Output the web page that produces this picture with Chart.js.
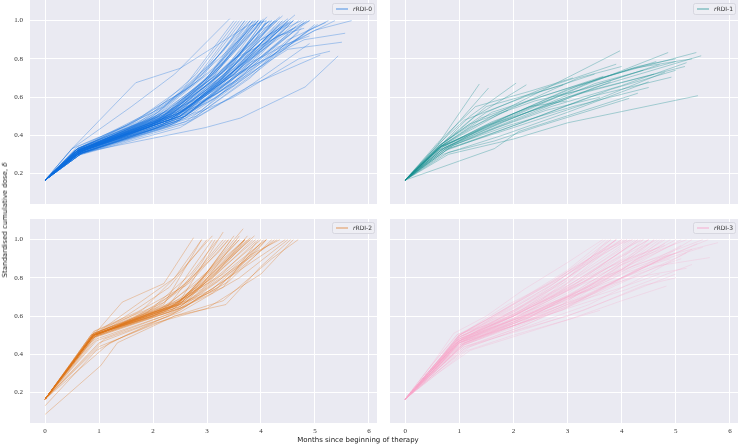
<!DOCTYPE html>
<html>
<head>
<meta charset="utf-8">
<script src="https://cdn.jsdelivr.net/npm/chart.js@4.4.0/dist/chart.umd.min.js"></script>
<style>
body { margin: 0; background: #fff; width: 738px; height: 445px; position: relative; overflow: hidden; }
canvas { position: absolute; }
.title { position: absolute; font-family: "DejaVu Sans", sans-serif; font-size: 7px; color: #1a1a1a; white-space: nowrap; z-index: 2; }
#ytitle { left: 5px; top: 220px; transform: translate(-50%, -50%) rotate(-90deg); }
#xtitle { left: 358px; top: 440px; transform: translate(-50%, -50%); }
</style>
</head>
<body>
<canvas id="c0" width="377" height="204" style="left:0;top:0"></canvas>
<canvas id="c1" width="348" height="204" style="left:390px;top:0"></canvas>
<canvas id="c2" width="377" height="226" style="left:0;top:219px"></canvas>
<canvas id="c3" width="348" height="226" style="left:390px;top:219px"></canvas>
<div class="title" id="ytitle">Standardised cumulative dose, <i>δ</i></div>
<div class="title" id="xtitle">Months since beginning of therapy</div>
<script>
// shared ticks
var xTicks = [0, 1, 2, 3, 4, 5, 6]
var yTicks = [0.2, 0.4, 0.6, 0.8, 1.0]
var groupNames = ['RDI-0', 'RDI-1', 'RDI-2', 'RDI-3']

// each patient: [months, standardised cumulative dose]
var rrdi0 = [
  [[0,.165],[.5,.33],[1.68,.675],[2.5,.75],[3.9,1.0]],
  [[0,.165],[.5,.33],[1.6,.55],[2.4,.72],[3.42,1.01]],
  [[0,.165],[.7,.31],[2.97,.44],[3.62,.49],[4.82,.653],[5.43,.815]],
  [[0,.165],[.6,.3],[2.2,.44],[3.5,.6],[4.7,.8],[5.28,.84]],
  [[0,.165],[.6,.32],[2.0,.45],[3.2,.62],[4.5,.85],[5.5,.887]],
  [[0,.165],[.55,.31],[2.3,.48],[3.4,.7],[4.8,.9],[5.56,.934]],
  [[0,.165],[.6,.31],[2.4,.5],[3.6,.72],[5.0,.95],[5.68,1.0]],
  [[0,.165],[.7,.33],[2.5,.52],[3.8,.78],[5.37,1.0]],
  [[0,.165],[.65,.3],[2.6,.46],[3.8,.66],[5.1,.82]],
  [[0,.165],[.6,.32],[1.9,.46],[3.0,.68],[4.11,1.02]],
  [[0,.165],[.7,.33],[2.1,.5],[3.2,.72],[4.4,1.025]],
  [[0,.165],[.6,.31],[2.3,.49],[3.4,.74],[4.63,1.03]],
  [[0,.165],[.55,.32],[1.8,.47],[2.9,.7],[3.7,1.0]],
  [[0,.165],[.6,.33],[1.7,.46],[2.7,.66],[3.6,1.0]],
  [[0,.165],[.7,.34],[2.0,.5],[2.9,.72],[3.8,1.0]],
  [[0,.165],[.6,.32],[2.2,.5],[3.1,.72],[4.0,1.0]],
  [[0,.165],[.65,.31],[2.4,.49],[3.3,.7],[4.2,1.0]],
  [[0,.165],[.7,.32],[2.5,.52],[3.4,.74],[4.3,1.0]],
  [[0,.165],[.6,.3],[2.1,.44],[3.2,.65],[4.4,1.0]],
  [[0,.165],[.55,.31],[2.0,.47],[3.0,.66],[3.9,.9],[4.1,1.0]],
  [[0,.165],[.6,.33],[2.3,.53],[3.3,.78],[3.95,1.0]],
  [[0,.165],[.65,.32],[1.9,.48],[2.8,.68],[3.75,1.0]],
  [[0,.165],[.7,.31],[2.6,.5],[3.6,.73],[4.5,1.0]],
  [[0,.165],[.6,.3],[2.4,.47],[3.5,.68],[4.6,1.0]],
  [[0,.165],[.6,.31],[2.2,.46],[3.4,.7],[4.7,1.0]],
  [[0,.165],[.65,.32],[2.7,.55],[3.7,.78],[4.8,1.0]],
  [[0,.165],[.7,.33],[2.5,.56],[3.5,.8],[4.9,1.0]],
  [[0,.165],[.6,.3],[2.8,.5],[4.0,.75],[5.0,.98]],
  [[0,.165],[.55,.29],[2.5,.44],[3.7,.64],[4.9,.88]],
  [[0,.165],[.6,.31],[1.9,.44],[3.0,.63],[4.3,.95]],
  [[0,.165],[.65,.33],[2.0,.52],[2.8,.72],[3.55,1.0]],
  [[0,.165],[.6,.32],[2.1,.48],[3.0,.7],[3.85,1.0]],
  [[0,.165],[.7,.32],[2.3,.47],[3.2,.67],[4.05,.98],[4.2,1.0]],
  [[0,.165],[.6,.31],[2.5,.5],[3.4,.68],[4.35,1.0]],
  [[0,.165],[.55,.3],[2.2,.45],[3.3,.64],[4.5,.98]],
  [[0,.165],[.6,.32],[2.6,.54],[3.5,.74],[4.55,1.0]],
  [[0,.165],[.65,.31],[2.4,.52],[3.6,.8],[4.25,1.0]],
  [[0,.165],[.7,.34],[2.2,.55],[3.0,.76],[3.65,1.0]],
  [[0,.165],[.6,.33],[1.8,.5],[2.6,.66],[3.5,1.0]],
  [[0,.165],[.6,.3],[2.7,.48],[3.8,.7],[4.75,.96]],
  [[0,.165],[.7,.31],[2.9,.53],[4.0,.8],[4.85,1.0]],
  [[0,.165],[.6,.32],[2.4,.5],[3.3,.73],[4.15,1.0]],
  [[0,.165],[.65,.3],[2.3,.46],[3.6,.7],[4.65,.97]],
  [[0,.165],[.55,.31],[2.0,.46],[3.1,.68],[4.0,.95],[4.3,1.0]],
  [[0,.165],[.6,.33],[2.1,.52],[3.2,.77],[3.8,1.0]],
  [[0,.165],[.7,.32],[2.6,.52],[3.9,.82],[4.45,1.0]],
  [[0,.165],[.6,.31],[2.5,.48],[3.7,.72],[5.05,.98]],
  [[0,.165],[.65,.32],[2.2,.49],[3.3,.71],[4.05,1.0]],
  [[0,.165],[.6,.3],[2.0,.43],[3.2,.6],[4.3,.86],[4.9,.92]],
  [[0,.165],[.7,.33],[2.4,.54],[3.2,.75],[3.9,1.0]],
  [[0,.165],[.6,.32],[2.7,.56],[3.6,.77],[4.35,.98]],
  [[0,.165],[.65,.31],[1.9,.44],[3.1,.7],[3.75,.95],[3.95,1.0]],
  [[0,.165],[.6,.3],[2.3,.45],[3.5,.66],[4.5,.9],[5.2,.99]],
  [[0,.165],[.55,.32],[2.5,.51],[3.4,.7],[4.1,.95],[4.25,1.0]],
  [[0,.165],[.7,.31],[2.0,.45],[3.3,.73],[4.0,1.0]],
  [[0,.165],[.6,.32],[2.2,.48],[3.5,.78],[4.05,1.0]],
  [[0,.165],[.65,.3],[2.6,.47],[3.9,.74],[4.7,.94]],
  [[0,.165],[.6,.31],[2.8,.55],[3.7,.75],[4.6,1.0]],
  [[0,.165],[.7,.32],[2.1,.47],[2.9,.65],[3.7,.94],[3.85,1.0]],
  [[0,.165],[.6,.33],[2.3,.5],[3.1,.69],[4.15,1.0]],
  [[0,.165],[.5,.33],[1.5,.45],[2.5,.62],[3.3,.84],[3.7,1.0]],
  [[0,.165],[.6,.34],[1.6,.46],[2.6,.64],[3.45,.86],[3.9,.98]],
  [[0,.165],[.65,.31],[2.9,.6],[4.2,.9],[4.6,.96]],
  [[0,.165],[.6,.32],[2.5,.5],[3.2,.66],[4.2,.92],[4.55,.99]],
  [[0,.165],[.7,.33],[2.4,.46],[3.6,.72],[4.8,.99]],
  [[0,.165],[.6,.31],[2.6,.5],[3.3,.67],[4.45,.96],[4.75,1.0]],
  [[0,.165],[.6,.32],[2.3,.51],[3.2,.74],[3.95,1.0]],
  [[0,.165],[.65,.33],[2.4,.53],[3.3,.77],[4.05,1.01]],
  [[0,.165],[.6,.31],[2.2,.47],[3.3,.7],[4.2,.98]],
  [[0,.165],[.7,.32],[2.5,.5],[3.5,.72],[4.4,.97]],
  [[0,.165],[.55,.31],[2.1,.47],[3.0,.64],[4.0,.9],[4.5,.99]],
  [[0,.165],[.6,.32],[2.4,.49],[3.4,.71],[4.3,.94],[4.5,1.0]],
  [[0,.165],[.65,.31],[2.6,.53],[3.6,.76],[4.4,1.0]],
  [[0,.165],[.6,.33],[2.0,.49],[3.1,.74],[3.7,.97]],
  [[0,.165],[.7,.32],[2.3,.5],[3.4,.76],[4.1,.99]],
  [[0,.165],[.6,.31],[2.5,.48],[3.5,.7],[4.6,.94],[4.9,1.0]],
  [[0,.165],[.65,.32],[2.2,.5],[3.2,.72],[4.1,.96],[4.35,1.02]],
  [[0,.165],[.6,.32],[2.3,.48],[3.3,.69],[4.3,.92],[4.8,.96]],
  [[0,.165],[.7,.33],[2.1,.5],[3.1,.72],[3.9,.96],[4.0,1.0]],
  [[0,.165],[.6,.3],[2.6,.49],[3.8,.72],[4.9,.95],[5.25,1.0]],
  [[0,.165],[.55,.32],[1.9,.47],[2.9,.67],[3.8,.96],[3.95,1.0]],
  [[0,.165],[.65,.31],[2.7,.52],[3.6,.72],[4.5,.93]],
  [[0,.165],[.6,.32],[2.4,.51],[3.5,.75],[4.4,.99],[4.5,1.01]],
  [[0,.165],[.7,.33],[2.3,.52],[3.0,.7],[3.8,.97],[4.1,1.0]],
  [[0,.165],[.6,.31],[2.1,.46],[3.2,.68],[4.25,.97]],
  [[0,.165],[.65,.32],[2.5,.5],[3.1,.66],[4.0,.9],[4.6,1.0]]
]

var rrdi1 = [
  [[0,.165],[.6,.35],[1.37,.668]],
  [[0,.165],[.65,.36],[1.54,.647]],
  [[0,.165],[.7,.36],[1.2,.5],[2.05,.673]],
  [[0,.165],[.65,.34],[1.3,.5],[2.24,.664]],
  [[0,.165],[.7,.35],[1.6,.5],[3.97,.842]],
  [[0,.165],[.67,.342],[2.0,.5],[3.3,.66],[4.86,.833]],
  [[0,.165],[.67,.342],[2.2,.53],[3.6,.7],[5.38,.833]],
  [[0,.165],[.6,.32],[2.0,.48],[3.5,.65],[5.47,.816]],
  [[0,.165],[.8,.3],[2.0,.38],[3.0,.465],[5.41,.607]],
  [[0,.165],[.7,.33],[1.8,.47],[3.2,.62],[5.17,.76]],
  [[0,.165],[.75,.32],[2.1,.46],[3.4,.6],[4.92,.704]],
  [[0,.165],[.65,.35],[1.5,.52],[2.5,.64],[3.9,.772]],
  [[0,.165],[.8,.31],[1.65,.37],[2.5,.45],[4.14,.593]],
  [[0,.165],[.7,.36],[1.5,.55],[2.92,.664]],
  [[0,.165],[.6,.34],[1.4,.49],[2.5,.6],[3.66,.708]],
  [[0,.165],[.7,.33],[1.9,.5],[3.2,.66],[4.64,.786]],
  [[0,.165],[.75,.34],[2.0,.49],[3.5,.67],[5.0,.786]],
  [[0,.165],[1.65,.33],[2.1,.42],[3.2,.52],[4.3,.62]],
  [[0,.165],[.65,.35],[1.2,.46],[2.4,.58],[3.3,.64],[4.7,.77]],
  [[0,.165],[.7,.34],[1.6,.47],[2.8,.6],[4.4,.74]],
  [[0,.165],[.6,.33],[1.7,.46],[3.0,.6],[4.6,.72]],
  [[0,.165],[.65,.32],[1.5,.42],[2.7,.55],[4.0,.66],[5.2,.78]],
  [[0,.165],[.7,.3],[1.8,.4],[3.0,.52],[4.5,.68]],
  [[0,.165],[.6,.35],[1.1,.48],[2.2,.6],[3.5,.72]],
  [[0,.165],[.7,.34],[1.4,.44],[2.3,.55],[3.0,.58]],
  [[0,.165],[.8,.33],[2.0,.44],[3.4,.57],[4.8,.73]],
  [[0,.165],[.67,.342],[1.9,.5],[3.0,.64],[4.3,.76],[5.0,.8]],
  [[0,.165],[.6,.36],[1.3,.55],[2.3,.63],[3.1,.7]],
  [[0,.165],[.7,.32],[2.2,.47],[3.8,.64],[5.0,.74]],
  [[0,.165],[.75,.33],[1.7,.44],[2.6,.53],[3.6,.6]],
  [[0,.165],[.65,.34],[1.8,.52],[3.2,.7],[4.0,.76]],
  [[0,.165],[.6,.33],[1.2,.44],[1.9,.53]],
  [[0,.165],[.7,.35],[1.6,.52],[2.6,.61],[4.2,.75],[5.3,.8]],
  [[0,.165],[.8,.34],[1.5,.45],[2.8,.57],[3.8,.68]],
  [[0,.165],[.9,.35],[1.9,.45],[3.1,.55],[4.5,.65]]
]

var rrdi2 = [
  [[0,.165],[.9,.5],[1.43,.673],[2.2,.77],[2.75,1.01]],
  [[0,.085],[1.03,.34],[1.34,.46],[2.4,.6],[3.3,.68],[4.2,.9],[4.69,1.0]],
  [[0,.165],[.9,.5],[1.8,.6],[2.5,.68],[3.3,1.04]],
  [[0,.165],[.9,.5],[2.0,.62],[2.5,.66],[3.67,1.057]],
  [[0,.165],[.88,.49],[2.0,.63],[2.6,.7],[3.88,1.02]],
  [[0,.165],[.9,.5],[2.2,.63],[2.6,.68],[3.7,1.0]],
  [[0,.165],[.92,.5],[1.9,.6],[2.4,.65],[3.0,.82],[3.6,1.0]],
  [[0,.165],[.9,.51],[1.6,.58],[2.2,.66],[2.9,1.0]],
  [[0,.165],[.85,.48],[1.7,.6],[2.4,.72],[3.1,1.0]],
  [[0,.165],[.9,.5],[2.1,.62],[2.8,.75],[3.45,1.0]],
  [[0,.165],[.95,.49],[2.3,.62],[3.0,.78],[3.9,1.0]],
  [[0,.165],[.9,.5],[2.4,.64],[3.2,.84],[3.8,1.0]],
  [[0,.165],[.88,.5],[2.0,.6],[2.9,.74],[4.0,1.0]],
  [[0,.165],[1.0,.46],[2.3,.6],[3.2,.75],[4.1,1.0]],
  [[0,.165],[.9,.5],[2.5,.65],[3.5,.85],[4.3,1.0]],
  [[0,.165],[1.1,.48],[2.5,.62],[3.6,.8],[4.5,1.0]],
  [[0,.165],[.9,.52],[1.7,.62],[2.6,.76],[3.3,1.0]],
  [[0,.165],[.9,.5],[1.5,.6],[2.3,.75],[3.0,1.0]],
  [[0,.165],[.95,.47],[2.2,.6],[3.1,.72],[3.95,.95],[4.1,1.0]],
  [[0,.165],[.9,.5],[2.45,.66],[3.1,.86],[3.55,1.0]],
  [[0,.165],[.85,.5],[1.9,.62],[2.7,.82],[3.2,1.0]],
  [[0,.165],[.9,.49],[2.6,.67],[3.4,.9],[3.75,1.0]],
  [[0,.165],[.92,.5],[2.2,.64],[3.0,.83],[3.5,1.02]],
  [[0,.165],[1.0,.44],[2.4,.6],[3.35,.66],[4.0,.86],[4.55,1.0]],
  [[0,.165],[.9,.5],[2.0,.6],[3.1,.74],[3.8,.92],[4.35,1.0]],
  [[0,.165],[.9,.51],[2.5,.68],[3.3,.9],[3.7,1.0]],
  [[0,.165],[.88,.5],[2.3,.65],[3.3,.82],[4.0,.98]],
  [[0,.165],[.9,.5],[1.8,.63],[2.4,.8],[2.9,1.0]],
  [[0,.165],[.95,.5],[2.1,.65],[2.7,.78],[3.4,1.0]],
  [[0,.165],[.9,.49],[2.5,.64],[3.4,.78],[4.2,1.0]],
  [[0,.165],[1.2,.46],[2.0,.56],[3.0,.64],[4.0,.82],[4.6,1.0]],
  [[0,.165],[.9,.5],[2.45,.66],[3.7,1.0]],
  [[0,.165],[.9,.5],[2.5,.67],[3.0,.77],[3.85,1.0]],
  [[0,.13],[.95,.42],[1.5,.5],[2.5,.63],[3.4,.8],[4.25,1.0]],
  [[0,.165],[.9,.5],[1.9,.7],[2.4,.8],[3.1,1.02]],
  [[0,.165],[.92,.52],[2.2,.67],[3.2,.93],[3.4,1.0]],
  [[0,.165],[.9,.5],[2.6,.65],[3.5,.82],[4.45,1.0]],
  [[0,.165],[.85,.49],[2.4,.63],[3.6,.86],[4.05,1.0]],
  [[0,.165],[.9,.5],[2.5,.66],[3.3,.75],[3.95,1.0]],
  [[0,.165],[.95,.5],[2.3,.66],[2.9,.88],[3.15,1.0]],
  [[0,.165],[.9,.5],[2.3,.64],[2.9,.76],[3.6,1.02]],
  [[0,.165],[.88,.5],[2.1,.63],[2.8,.77],[3.5,.97],[3.6,1.0]],
  [[0,.165],[.9,.51],[2.4,.66],[3.1,.8],[3.75,1.02]],
  [[0,.165],[.92,.49],[2.5,.65],[3.2,.8],[3.9,.99]],
  [[0,.165],[.9,.5],[2.2,.62],[2.9,.77],[3.6,.96],[3.7,1.0]],
  [[0,.165],[.9,.5],[2.6,.68],[3.3,.86],[3.8,1.01]],
  [[0,.165],[.85,.5],[2.0,.64],[2.7,.79],[3.35,1.0]],
  [[0,.165],[.95,.48],[2.4,.62],[3.2,.78],[4.0,.98],[4.1,1.0]]
]

var rrdi3 = [
  [[0,.165],[.5,.33],[1.0,.5],[2.0,.63],[3.0,.8],[3.8,1.0]],
  [[0,.165],[.5,.3],[1.0,.46],[2.0,.58],[3.0,.72],[4.0,.9],[4.4,1.0]],
  [[0,.165],[.6,.3],[1.13,.418],[2.0,.5],[3.0,.58],[4.0,.68],[4.83,.757]],
  [[0,.165],[.5,.32],[1.0,.47],[2.0,.6],[3.0,.7],[4.2,.8],[5.2,.85]],
  [[0,.165],[.5,.31],[1.1,.47],[2.2,.6],[3.4,.74],[4.6,.86],[5.63,.906]],
  [[0,.165],[.5,.32],[1.0,.48],[2.1,.62],[3.3,.77],[4.6,.9],[5.78,.984]],
  [[0,.165],[.45,.33],[.97,.505],[1.6,.56],[2.5,.68],[3.4,.88],[3.9,1.0]],
  [[0,.165],[.5,.32],[1.0,.49],[1.8,.6],[2.8,.74],[3.7,.9],[4.2,1.0]],
  [[0,.165],[.6,.33],[1.0,.44],[2.0,.56],[2.9,.66],[3.9,.85],[4.6,1.0]],
  [[0,.165],[.5,.3],[1.1,.45],[2.2,.57],[3.2,.7],[4.2,.88],[4.9,1.0]],
  [[0,.165],[.55,.32],[1.0,.46],[2.0,.6],[3.1,.76],[4.0,.94],[4.3,1.0]],
  [[0,.165],[.5,.33],[1.0,.5],[1.7,.6],[2.5,.72],[3.4,.9],[3.75,1.0]],
  [[0,.165],[.6,.31],[1.2,.44],[2.3,.55],[3.4,.66],[4.5,.82],[5.3,.95]],
  [[0,.165],[.5,.32],[1.0,.47],[2.0,.58],[3.0,.68],[4.1,.86],[5.0,1.0]],
  [[0,.165],[.55,.32],[1.05,.48],[2.1,.62],[3.0,.8],[3.9,1.0]],
  [[0,.165],[.5,.31],[1.0,.45],[1.9,.54],[2.9,.63],[4.0,.8],[5.1,.97]],
  [[0,.165],[.5,.32],[1.0,.48],[2.2,.6],[3.2,.73],[4.3,.92],[4.7,1.0]],
  [[0,.165],[.6,.32],[1.1,.46],[2.0,.55],[3.0,.66],[3.9,.74],[4.7,.82]],
  [[0,.165],[.5,.33],[.95,.49],[1.5,.58],[2.2,.7],[3.0,.84],[3.7,1.0]],
  [[0,.165],[.5,.31],[1.0,.47],[2.0,.57],[3.0,.7],[4.2,.86],[5.5,1.0]],
  [[0,.165],[.55,.32],[1.05,.46],[2.1,.58],[3.2,.74],[4.4,.95],[4.6,1.0]],
  [[0,.165],[.5,.3],[1.1,.44],[2.2,.53],[3.3,.63],[4.4,.76],[5.0,.8]],
  [[0,.165],[.5,.32],[1.0,.49],[2.0,.64],[2.9,.8],[3.6,.93],[4.0,1.0]],
  [[0,.165],[.5,.33],[1.0,.48],[2.0,.6],[3.0,.74],[4.0,.87],[5.2,1.0]],
  [[0,.165],[.6,.31],[1.1,.43],[2.0,.52],[3.0,.6],[4.1,.72],[5.0,.82]],
  [[0,.165],[.5,.32],[1.0,.46],[2.0,.56],[3.1,.68],[4.3,.84],[5.4,.98]],
  [[0,.165],[.5,.32],[1.0,.5],[1.8,.63],[2.7,.78],[3.5,.92],[4.1,1.0]],
  [[0,.165],[.55,.31],[1.05,.45],[2.1,.56],[3.1,.72],[4.1,.9],[4.5,1.0]],
  [[0,.165],[.5,.31],[1.0,.47],[2.2,.58],[3.4,.76],[4.4,.93],[4.8,1.0]],
  [[0,.165],[.5,.33],[1.0,.48],[2.0,.66],[2.8,.79],[3.6,.96],[3.8,1.0]],
  [[0,.165],[.6,.3],[1.2,.42],[2.1,.5],[3.0,.58],[3.6,.63]],
  [[0,.165],[.5,.32],[1.0,.47],[2.0,.61],[3.0,.77],[4.0,.95],[4.25,1.0]],
  [[0,.165],[.5,.31],[1.1,.45],[2.3,.58],[3.5,.72],[4.6,.88],[5.3,1.0]],
  [[0,.165],[.5,.32],[1.0,.46],[1.9,.57],[2.9,.72],[3.8,.86],[4.7,.96]],
  [[0,.165],[.5,.33],[1.0,.49],[2.0,.62],[3.0,.76],[4.0,.92],[4.5,1.0]],
  [[0,.165],[.55,.32],[1.0,.46],[2.0,.55],[3.0,.65],[4.0,.8],[4.9,.92]],
  [[0,.165],[.5,.31],[1.0,.48],[2.0,.6],[2.8,.72],[3.8,.9],[4.35,1.0]],
  [[0,.165],[.45,.33],[.9,.51],[1.5,.6],[2.2,.74],[3.0,.88],[3.65,1.0]],
  [[0,.165],[.5,.31],[1.05,.45],[2.1,.58],[3.2,.71],[4.2,.85],[5.0,.93]],
  [[0,.165],[.6,.31],[1.15,.44],[2.2,.55],[3.2,.68],[4.3,.82],[5.1,.9]],
  [[0,.165],[.5,.32],[1.0,.47],[2.0,.63],[3.1,.8],[4.0,.97],[4.15,1.0]],
  [[0,.165],[.5,.32],[1.0,.47],[2.1,.59],[3.1,.72],[4.1,.86],[5.0,.98]],
  [[0,.165],[.5,.33],[1.0,.49],[2.0,.62],[2.8,.76],[3.7,.94],[4.0,1.0]],
  [[0,.165],[.55,.31],[1.1,.46],[2.1,.58],[3.3,.7],[4.6,.88],[5.5,.96]],
  [[0,.165],[.5,.32],[1.0,.5],[1.9,.66],[2.6,.76],[3.4,.9],[3.9,1.0]],
  [[0,.165],[.5,.32],[1.0,.48],[2.0,.58],[3.0,.7],[4.0,.84],[4.75,1.0]],
  [[0,.165],[.5,.31],[1.0,.46],[2.0,.55],[3.0,.64],[4.1,.74],[5.3,.87]],
  [[0,.165],[.5,.32],[1.05,.48],[2.1,.64],[3.2,.84],[4.1,1.0]],
  [[0,.165],[.5,.33],[1.0,.5],[2.0,.66],[3.0,.82],[4.0,.98],[4.2,1.0]],
  [[0,.165],[.6,.32],[1.1,.46],[2.0,.56],[3.0,.69],[4.1,.83],[4.9,.9]],
  [[0,.165],[.5,.32],[1.0,.48],[2.0,.6],[3.0,.74],[3.9,.9],[4.5,.98]],
  [[0,.165],[.55,.32],[1.05,.47],[2.1,.6],[3.2,.78],[4.1,.96],[4.4,1.0]],
  [[0,.165],[.5,.31],[1.0,.46],[2.0,.57],[3.1,.71],[4.3,.9],[4.8,.98]],
  [[0,.165],[.5,.33],[1.0,.49],[2.0,.61],[2.9,.74],[3.9,.92],[4.3,1.0]],
  [[0,.165],[.6,.31],[1.1,.44],[2.1,.54],[3.2,.67],[4.2,.8],[5.2,.93]],
  [[0,.165],[.5,.32],[1.0,.47],[2.0,.59],[3.0,.73],[4.1,.91],[4.65,1.0]],
  [[0,.165],[.5,.32],[1.05,.47],[2.2,.61],[3.3,.78],[4.2,.95],[4.5,1.0]],
  [[0,.165],[.5,.31],[1.0,.45],[2.0,.56],[3.0,.69],[4.0,.83],[5.1,1.0]],
  [[0,.165],[.45,.33],[.95,.5],[1.8,.62],[2.7,.76],[3.6,.94],[3.9,1.0]],
  [[0,.165],[.55,.31],[1.1,.45],[2.2,.56],[3.3,.7],[4.4,.86],[5.6,1.0]],
  [[0,.165],[.5,.32],[1.0,.47],[2.0,.6],[3.0,.75],[4.0,.89],[4.8,.97]],
  [[0,.165],[.5,.32],[1.0,.49],[2.0,.6],[2.9,.75],[3.8,.96],[4.05,1.0]]
]

var lineColours = ['rgba(12,108,222,0.32)', 'rgba(22,142,142,0.35)', 'rgba(222,118,28,0.33)', 'rgba(248,165,202,0.26)']
var legendColours = ['rgba(12,108,222,0.6)', 'rgba(22,142,142,0.6)', 'rgba(222,118,28,0.6)', 'rgba(248,160,200,0.7)']

// grey panel background
var panelBg = {
  id: 'panelBg',
  beforeDraw: function(chart) {
    var a = chart.chartArea, ctx = chart.ctx
    ctx.save()
    ctx.fillStyle = '#eaeaf2'
    ctx.fillRect(a.left, a.top, a.right - a.left, a.bottom - a.top)
    ctx.restore()
  }
}

// small legend box in the upper right corner
var panelLegend = {
  id: 'panelLegend',
  afterDraw: function(chart, args, opts) {
    var a = chart.chartArea, ctx = chart.ctx
    var w = 42, h = 11, x = a.right - w - 3, y = a.top + 3
    ctx.save()
    ctx.fillStyle = 'rgba(238,238,245,0.85)'
    ctx.strokeStyle = '#d2d2da'
    ctx.lineWidth = 0.8
    ctx.beginPath()
    ctx.roundRect(x + 0.5, y + 0.5, w, h, 2)
    ctx.fill()
    ctx.stroke()
    ctx.strokeStyle = opts.colour
    ctx.lineWidth = 1.2
    ctx.beginPath()
    ctx.moveTo(x + 4, y + h / 2 + 0.5)
    ctx.lineTo(x + 16, y + h / 2 + 0.5)
    ctx.stroke()
    ctx.fillStyle = '#333'
    ctx.textBaseline = 'middle'
    ctx.font = 'italic 6px "DejaVu Sans"'
    ctx.fillText('r', x + 21, y + h / 2 + 0.5)
    var rw = ctx.measureText('r').width
    ctx.font = '6px "DejaVu Sans"'
    ctx.fillText(opts.text, x + 21 + rw, y + h / 2 + 0.5)
    ctx.restore()
  }
}

function noPadding(s) {
  s.paddingTop = 0
  s.paddingBottom = 0
  s.paddingLeft = 0
  s.paddingRight = 0
}

function makeChart(id, lines, idx, showX, showY) {
  var datasets = lines.map(function(line) {
    return {
      data: line.map(function(p) { return {x: p[0], y: p[1]} }),
      borderColor: lineColours[idx],
      borderWidth: 1,
      pointRadius: 0,
      fill: false,
      tension: 0
    }
  })
  return new Chart(document.getElementById(id), {
    type: 'line',
    data: {datasets: datasets},
    plugins: [panelBg, panelLegend],
    options: {
      responsive: false,
      animation: false,
      layout: {padding: 0},
      plugins: {
        legend: {display: false},
        tooltip: {enabled: false},
        panelLegend: {text: groupNames[idx], colour: legendColours[idx]}
      },
      scales: {
        x: {
          type: 'linear',
          min: -0.28,
          max: 6.15,
          border: {display: false},
          grid: {color: '#ffffff', lineWidth: 1, drawTicks: false},
          ticks: {display: showX, color: '#333', padding: 4, font: {family: 'Liberation Serif', size: 7}},
          afterBuildTicks: function(s) { s.ticks = xTicks.map(function(v) { return {value: v} }) },
          afterFit: function(s) { s.height = showX ? 22 : 0; noPadding(s) }
        },
        y: {
          type: 'linear',
          min: 0.04,
          max: 1.108,
          border: {display: false},
          grid: {color: '#ffffff', lineWidth: 1, drawTicks: false},
          ticks: {display: showY, color: '#333', padding: 7, font: {family: 'Liberation Serif', size: 7},
            callback: function(v) { return v.toFixed(1) }},
          afterBuildTicks: function(s) { s.ticks = yTicks.map(function(v) { return {value: v} }) },
          afterFit: function(s) { s.width = showY ? 30 : 0; noPadding(s) }
        }
      }
    }
  })
}

makeChart('c0', rrdi0, 0, false, true)
makeChart('c1', rrdi1, 1, false, false)
makeChart('c2', rrdi2, 2, true, true)
makeChart('c3', rrdi3, 3, true, false)
</script>
</body>
</html>
